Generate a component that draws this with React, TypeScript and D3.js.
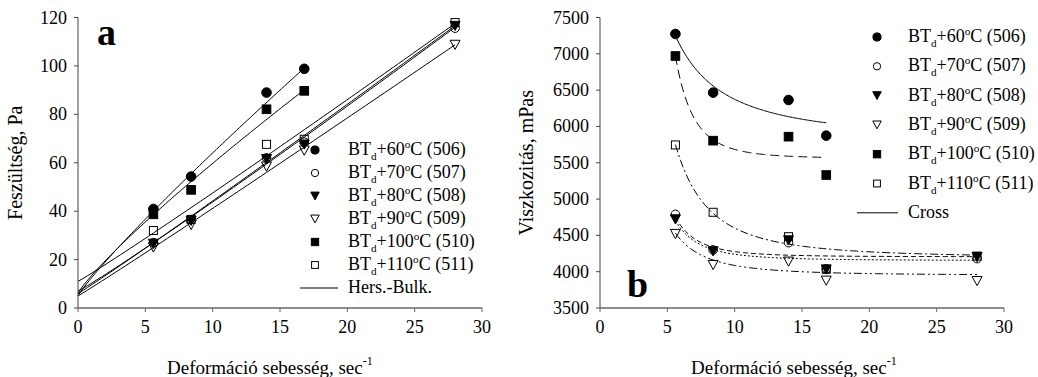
import React from 'react';
import * as d3 from 'd3';

// ---------- DATA ----------
const shearRates = [5.6, 8.4, 14.0, 16.8, 28.0];
const seriesCodes = ['506', '507', '508', '509', '510', '511'];
const seriesTemps = ['60', '70', '80', '90', '100', '110'];
const markerKinds = ['circleFilled', 'circleOpen', 'triFilled', 'triOpen', 'squareFilled', 'squareOpen'];

// Panel a: shear stress, Pa
const stress506 = [40.9, 54.3, 89.0, 98.8];
const stress507 = [27.0, 36.5, 62.0, 68.5, 115.6];
const stress508 = [26.5, 36.0, 61.5, 67.5, 116.5];
const stress509 = [25.0, 34.3, 58.4, 65.0, 108.7];
const stress510 = [38.7, 48.8, 82.1, 89.7];
const stress511 = [32.0, 36.6, 67.6, 69.7, 117.9];

// Panel b: viscosity, mPas
const visc506 = [7273, 6465, 6364, 5873];
const visc507 = [4790, 4300, 4400, 4040, 4180];
const visc508 = [4720, 4280, 4430, 4030, 4200];
const visc509 = [4519, 4092, 4138, 3876, 3870];
const visc510 = [6970, 5804, 5859, 5331];
const visc511 = [5745, 4818, 4482, 4033, 4215];

// Herschel-Bulkley fit parameters (tau0, K, n)
const hbTau0 = [5, 7, 6, 5, 6, 11];
const hbK = [7.45, 3.25, 3.55, 3.42, 7.35, 3.33];
const hbN = [0.899, 1.054, 1.032, 1.024, 0.864, 1.04];

// Cross-type fit parameters (eta_inf, eta at first rate, exponent)
const crossInf = [5800, 4205, 4155, 3950, 5560, 4190];
const crossStart = [7250, 4750, 4700, 4530, 6970, 5750];
const crossM = [1.6, 3.5, 3.2, 2.5, 4.2, 2.3];

const stressTicks = [0, 20, 40, 60, 80, 100, 120];
const viscTicks = [3500, 4000, 4500, 5000, 5500, 6000, 6500, 7000, 7500];
const rateTicks = [0, 5, 10, 15, 20, 25, 30];

const stressData = [stress506, stress507, stress508, stress509, stress510, stress511];
const viscData = [visc506, visc507, visc508, visc509, visc510, visc511];

// styles
const crossDash = ['', '5,3', '2,2', '8,3,2,3,2,3', '9,5', '8,3,2,3'];
const FONT = "'Liberation Serif', 'Times New Roman', serif";

function Marker({ kind, x, y, s = 1 }: { kind: string; x: number; y: number; s?: number }) {
  const filled = kind.endsWith('Filled');
  const fill = filled ? '#000' : 'none';
  const common = { fill, stroke: '#000', strokeWidth: 1 };
  if (kind.startsWith('circle')) {
    return <circle cx={x} cy={y} r={(filled ? 4.8 : 4.3) * s} {...common} />;
  }
  if (kind.startsWith('square')) {
    const h = (filled ? 4.3 : 4) * s;
    return <rect x={x - h} y={y - h} width={2 * h} height={2 * h} {...common} />;
  }
  const w = 5 * s;
  const hh = 4.6 * s;
  return <path d={`M${x - w},${y - hh}L${x + w},${y - hh}L${x},${y + hh}Z`} {...common} />;
}

function LegendLabel({ x, y, temp, code, fs }: { x: number; y: number; temp: string; code: string; fs: number }) {
  return (
    <text x={x} y={y} fontFamily={FONT} fontSize={fs} fill="#000">
      <tspan>BT</tspan>
      <tspan dy={5} fontSize={fs * 0.62}>d</tspan>
      <tspan dy={-5}>{`+${temp}`}</tspan>
      <tspan dy={-7} fontSize={fs * 0.62}>o</tspan>
      <tspan dy={7}>{`C (${code})`}</tspan>
    </text>
  );
}

function Panel({
  x0, x1, yTop, yBottom, yDomain, yTicks, data, fitPath, letter, letterPos, yTitle, yTitleX, xTitleX, legend,
}: any) {
  const xs = d3.scaleLinear().domain([0, 30]).range([x0, x1]);
  const ys = d3.scaleLinear().domain(yDomain).range([yBottom, yTop]);
  const line = d3.line<[number, number]>().x((d) => xs(d[0])).y((d) => ys(d[1]));
  return (
    <g>
      {seriesCodes.map((c, i) => (
        <path key={'f' + c} d={line(fitPath(i)) || ''} fill="none" stroke="#000" strokeWidth={1}
          strokeDasharray={legend.dashed ? crossDash[i] : undefined} />
      ))}
      {data.map((vals: number[], i: number) =>
        vals.map((v, j) => <Marker key={`m${i}-${j}`} kind={markerKinds[i]} x={xs(shearRates[j])} y={ys(v)} />)
      )}
      <line x1={x0} x2={x0} y1={yTop} y2={yBottom} stroke="#444" strokeWidth={1} />
      <line x1={x0} x2={x1} y1={yBottom} y2={yBottom} stroke="#666" strokeWidth={1.5} />
      {yTicks.map((t: number) => (
        <g key={'yt' + t}>
          <line x1={x0 - 4} x2={x0} y1={ys(t)} y2={ys(t)} stroke="#444" />
          <text x={x0 - 11} y={ys(t) + 6} textAnchor="end" fontFamily={FONT} fontSize={18}>{t}</text>
        </g>
      ))}
      {rateTicks.map((t) => (
        <g key={'xt' + t}>
          <line x1={xs(t)} x2={xs(t)} y1={yBottom} y2={yBottom + 4} stroke="#666" />
          <text x={xs(t)} y={yBottom + 25} textAnchor="middle" fontFamily={FONT} fontSize={18}>{t}</text>
        </g>
      ))}
      <text x={xTitleX} y={374} fontFamily={FONT} fontSize={19}>
        <tspan>Deformáció sebesség, sec</tspan>
        <tspan dy={-9} fontSize={12}>-1</tspan>
      </text>
      <text transform={`translate(${yTitleX},${(yTop + yBottom) / 2}) rotate(-90)`} textAnchor="middle"
        fontFamily={FONT} fontSize={20}>{yTitle}</text>
      <text x={letterPos[0]} y={letterPos[1]} fontFamily={FONT} fontWeight="bold" fontSize={38}>{letter}</text>
      {seriesCodes.map((c, i) => (
        <g key={'lg' + c}>
          <Marker kind={markerKinds[i]} x={legend.mx} y={legend.y0 + i * legend.dy} s={0.85} />
          <LegendLabel x={legend.tx} y={legend.y0 + i * legend.dy + 5} temp={seriesTemps[i]} code={c} fs={18} />
        </g>
      ))}
      <line x1={legend.lx0} x2={legend.lx1} y1={legend.y0 + 6 * legend.dy} y2={legend.y0 + 6 * legend.dy}
        stroke="#000" strokeWidth={1} />
      <text x={legend.tx} y={legend.y0 + 6 * legend.dy + 5} fontFamily={FONT} fontSize={18}>{legend.lineLabel}</text>
    </g>
  );
}

export default function App() {
  const hbPath = (i: number): [number, number][] => {
    const end = shearRates[stressData[i].length - 1];
    return d3.range(0, end + 0.001, end / 80).map((x) => [x, hbTau0[i] + hbK[i] * Math.pow(x, hbN[i])]);
  };
  const crossPath = (i: number): [number, number][] => {
    const start = shearRates[0];
    const end = shearRates[viscData[i].length - 1];
    const A = (crossStart[i] - crossInf[i]) * Math.pow(start, crossM[i]);
    return d3.range(start, end + 0.001, (end - start) / 120).map((x) => [x, crossInf[i] + A * Math.pow(x, -crossM[i])]);
  };
  return (
    <svg width={1038} height={377} style={{ position: 'absolute', left: 0, top: 0, background: '#fff' }}>
      <rect width={1038} height={377} fill="#fff" />
      <Panel x0={78} x1={482} yTop={17.5} yBottom={308} yDomain={[0, 120]} yTicks={stressTicks}
        data={stressData} fitPath={hbPath} letter="a" letterPos={[97, 45]} yTitle="Feszültség, Pa" yTitleX={22}
        xTitleX={167}
        legend={{ mx: 315, tx: 348, y0: 150, dy: 23, lx0: 300, lx1: 338, lineLabel: 'Hers.-Bulk.', dashed: false }} />
      <Panel x0={600} x1={1004} yTop={17.5} yBottom={308} yDomain={[3500, 7500]} yTicks={viscTicks}
        data={viscData} fitPath={crossPath} letter="b" letterPos={[627, 297]} yTitle="Viszkozitás, mPas" yTitleX={533}
        xTitleX={691}
        legend={{ mx: 877, tx: 908, y0: 37, dy: 29.3, lx0: 857, lx1: 898, lineLabel: 'Cross', dashed: true }} />
    </svg>
  );
}
